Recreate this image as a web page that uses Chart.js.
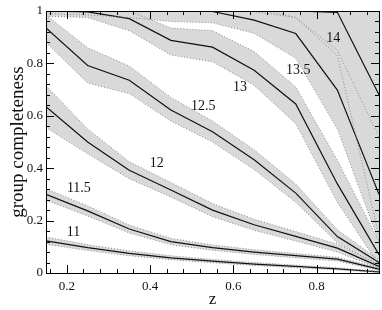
<!DOCTYPE html>
<html>
<head>
<meta charset="utf-8">
<script src="https://cdn.jsdelivr.net/npm/chart.js@4.4.1/dist/chart.umd.min.js"></script>
<style>
  html, body { margin: 0; padding: 0; background: #fff; }
  #wrap { width: 382px; height: 310px; }
</style>
</head>
<body>
<div id="wrap"><canvas id="chart" width="382" height="310"></canvas></div>
<script>
// redshift bins
const zValues = [0.15, 0.25, 0.35, 0.45, 0.55, 0.65, 0.75, 0.85, 0.95];

// log halo mass bins, each with median completeness and the upper/lower scatter
const massNames = ['11', '11.5', '12', '12.5', '13', '13.5', '14'];

const mid11 = [0.123, 0.097, 0.075, 0.058, 0.045, 0.034, 0.025, 0.016, 0.004];
const hi11  = [0.137, 0.108, 0.084, 0.066, 0.052, 0.040, 0.030, 0.020, 0.006];
const lo11  = [0.110, 0.086, 0.066, 0.051, 0.039, 0.029, 0.020, 0.012, 0.002];

const mid115 = [0.300, 0.237, 0.168, 0.120, 0.097, 0.080, 0.066, 0.053, 0.015];
const hi115  = [0.322, 0.256, 0.183, 0.132, 0.107, 0.089, 0.074, 0.060, 0.020];
const lo115  = [0.278, 0.218, 0.153, 0.108, 0.087, 0.071, 0.058, 0.046, 0.010];

const mid12 = [0.635, 0.500, 0.392, 0.317, 0.240, 0.184, 0.140, 0.095, 0.025];
const hi12  = [0.715, 0.550, 0.425, 0.345, 0.265, 0.205, 0.158, 0.110, 0.032];
const lo12  = [0.555, 0.455, 0.360, 0.290, 0.215, 0.163, 0.122, 0.080, 0.018];

const mid125 = [0.935, 0.792, 0.736, 0.622, 0.539, 0.432, 0.305, 0.139, 0.040];
const hi125  = [0.985, 0.860, 0.790, 0.670, 0.580, 0.470, 0.340, 0.165, 0.050];
const lo125  = [0.880, 0.725, 0.685, 0.580, 0.500, 0.395, 0.270, 0.115, 0.030];

const mid13 = [1.000, 0.997, 0.971, 0.888, 0.862, 0.774, 0.645, 0.340, 0.070];
const hi13  = [1.020, 1.010, 1.000, 0.935, 0.925, 0.845, 0.710, 0.430, 0.120];
const lo13  = [0.980, 0.975, 0.925, 0.832, 0.806, 0.717, 0.570, 0.270, 0.030];

const mid135 = [1.000, 1.000, 1.000, 1.000, 0.998, 0.965, 0.914, 0.698, 0.300];
const hi135  = [1.020, 1.020, 1.020, 1.020, 1.020, 1.010, 0.975, 0.850, 0.520];
const lo135  = [0.990, 0.985, 0.975, 0.960, 0.955, 0.915, 0.820, 0.550, 0.120];

const mid14 = [1.000, 1.000, 1.000, 1.000, 1.000, 1.000, 1.000, 0.995, 0.680];
const hi14  = [1.020, 1.020, 1.020, 1.020, 1.020, 1.020, 1.020, 1.020, 1.020];
const lo14  = [1.000, 1.000, 1.000, 1.000, 1.000, 0.998, 0.975, 0.830, 0.140];

// where each mass label sits (data coords)
const labelZ = [0.216, 0.229, 0.416, 0.528, 0.616, 0.756, 0.840];
const labelC = [0.155, 0.324, 0.419, 0.635, 0.709, 0.774, 0.895];

const xTickValues = [0.2, 0.4, 0.6, 0.8];
const yTickValues = [0, 0.2, 0.4, 0.6, 0.8, 1];

const bands = [
  [mid11, hi11, lo11],
  [mid115, hi115, lo115],
  [mid12, hi12, lo12],
  [mid125, hi125, lo125],
  [mid13, hi13, lo13],
  [mid135, hi135, lo135],
  [mid14, hi14, lo14]
];

const pts = arr => arr.map((v, i) => ({ x: zValues[i], y: v }));

const datasets = [];
bands.forEach(([mid, hi, lo]) => {
  datasets.push({
    data: pts(hi), borderColor: '#8a8a8a', borderWidth: 1, borderDash: [1, 2],
    backgroundColor: '#d9d9d9', fill: '+1', pointRadius: 0, tension: 0
  });
  datasets.push({
    data: pts(lo), borderColor: '#8a8a8a', borderWidth: 1, borderDash: [1, 2],
    fill: false, pointRadius: 0, tension: 0
  });
});
bands.forEach(([mid]) => {
  datasets.push({
    data: pts(mid), borderColor: '#111', borderWidth: 1.2,
    fill: false, pointRadius: 0, tension: 0
  });
});

const serif = 'Liberation Serif';

// frame + inward major/minor ticks on all four sides
const frameTicks = {
  id: 'frameTicks',
  afterDatasetsDraw(chart) {
    const { ctx, chartArea: a, scales: { x, y } } = chart;
    ctx.save();
    ctx.strokeStyle = '#000';
    ctx.lineWidth = 1;
    ctx.beginPath();
    for (let i = 4; i <= 23; i++) {
      const v = i * 0.04;
      if (v < 0.15 || v > 0.95) continue;
      const len = Math.abs(v / 0.2 - Math.round(v / 0.2)) < 1e-6 ? 8 : 4;
      const px = Math.round(x.getPixelForValue(v)) + 0.5;
      ctx.moveTo(px, a.bottom); ctx.lineTo(px, a.bottom - len);
      ctx.moveTo(px, a.top); ctx.lineTo(px, a.top + len);
    }
    for (let i = 1; i < 25; i++) {
      const v = i * 0.04;
      const len = i % 5 === 0 ? 8 : 4;
      const py = Math.round(y.getPixelForValue(v)) + 0.5;
      ctx.moveTo(a.left, py); ctx.lineTo(a.left + len, py);
      ctx.moveTo(a.right, py); ctx.lineTo(a.right - len, py);
    }
    ctx.stroke();
    ctx.strokeRect(Math.round(a.left) + 0.5, Math.round(a.top) + 0.5,
      Math.round(a.right - a.left), Math.round(a.bottom - a.top));
    ctx.restore();
  }
};

const massText = {
  id: 'massText',
  afterDatasetsDraw(chart) {
    const { ctx, scales: { x, y } } = chart;
    ctx.save();
    ctx.fillStyle = '#111';
    ctx.font = '14px "' + serif + '"';
    ctx.textAlign = 'center';
    ctx.textBaseline = 'middle';
    massNames.forEach((t, i) => {
      ctx.fillText(t, x.getPixelForValue(labelZ[i]), y.getPixelForValue(labelC[i]));
    });
    ctx.restore();
  }
};

new Chart(document.getElementById('chart'), {
  type: 'line',
  data: { datasets },
  plugins: [frameTicks, massText],
  options: {
    responsive: false,
    animation: false,
    layout: { padding: { left: 0, right: 3, top: 11, bottom: 0 } },
    plugins: {
      legend: { display: false },
      tooltip: { enabled: false },
      filler: { drawTime: 'beforeDatasetsDraw' }
    },
    scales: {
      x: {
        type: 'linear', min: 0.15, max: 0.95,
        grid: { display: false, drawTicks: false },
        border: { display: false },
        afterBuildTicks: s => { s.ticks = xTickValues.map(v => ({ value: v })); },
        afterFit: s => { s.height = 37; },
        ticks: {
          padding: 6, color: '#111', font: { family: serif, size: 13 },
          callback: v => String(Number(v.toFixed(1)))
        },
        title: {
          display: true, text: 'z', color: '#111',
          font: { family: serif, size: 17 }, padding: { top: 0, bottom: 0 }
        }
      },
      y: {
        min: 0, max: 1,
        grid: { display: false, drawTicks: false },
        border: { display: false },
        afterBuildTicks: s => { s.ticks = yTickValues.map(v => ({ value: v })); },
        afterFit: s => { s.width = 46; },
        ticks: {
          padding: 3, color: '#111', font: { family: serif, size: 13 },
          callback: v => String(Number(v.toFixed(1)))
        },
        title: {
          display: true, text: 'group completeness', color: '#111',
          font: { family: serif, size: 19 }, padding: { top: 7, bottom: 0 }
        }
      }
    }
  }
});
</script>
</body>
</html>
